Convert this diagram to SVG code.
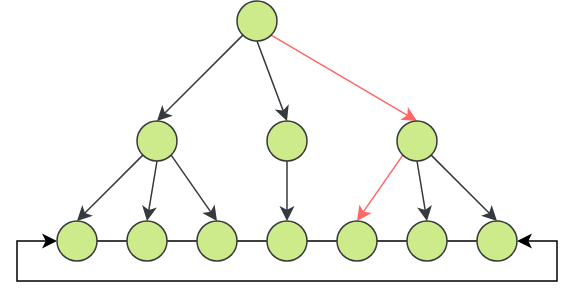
<svg xmlns="http://www.w3.org/2000/svg" width="576" height="300" viewBox="0 0 576 300">
  <style>
    .node { fill: #cdeb8b; stroke: #36393d; stroke-width: 1.5; }
    .edge { fill: none; stroke: #36393d; stroke-width: 1.5; marker-end: url(#arrDark); }
    .red { stroke: #ff6666; marker-end: url(#arrRed); }
    .blk { fill: none; stroke: #000000; stroke-width: 1.5; }
  </style>
  <defs>
    <marker id="arrDark" markerUnits="userSpaceOnUse" orient="auto" refX="0" refY="0" markerWidth="20" markerHeight="20" overflow="visible">
      <path d="M8,0 L-7,-7.5 L-3.25,0 L-7,7.5 Z" fill="#36393d"/>
    </marker>
    <marker id="arrRed" markerUnits="userSpaceOnUse" orient="auto" refX="0" refY="0" markerWidth="20" markerHeight="20" overflow="visible">
      <path d="M8,0 L-7,-7.5 L-3.25,0 L-7,7.5 Z" fill="#ff6666"/>
    </marker>
    <marker id="arrBlk" markerUnits="userSpaceOnUse" orient="auto-start-reverse" refX="0" refY="0" markerWidth="20" markerHeight="20" overflow="visible">
      <path d="M8,0 L-7,-7.5 L-3.25,0 L-7,7.5 Z" fill="#000000"/>
    </marker>
  </defs>
  <g id="connectors">
    <line class="blk" x1="77" y1="241" x2="497" y2="241"/>
    <path class="blk" d="M49,241 H17 V281 H557 V241 H525" marker-start="url(#arrBlk)" marker-end="url(#arrBlk)"/>
    <line class="edge" x1="242.86" y1="35.14" x2="162.66" y2="115.34"/>
    <line class="edge" x1="257" y1="41" x2="284.19" y2="113.51"/>
    <line class="edge red" x1="271.14" y1="35.14" x2="410.11" y2="116.94"/>
    <line class="edge" x1="142.86" y1="155.14" x2="82.66" y2="215.34"/>
    <line class="edge" x1="157" y1="161" x2="148.32" y2="213.11"/>
    <line class="edge" x1="171.14" y1="155.14" x2="212.43" y2="214.43"/>
    <line class="edge" x1="287" y1="161" x2="287" y2="213"/>
    <line class="edge red" x1="402.86" y1="155.14" x2="361.57" y2="214.43"/>
    <line class="edge" x1="417" y1="161" x2="425.68" y2="213.11"/>
    <line class="edge" x1="431.14" y1="155.14" x2="491.34" y2="215.34"/>
  </g>
  <g id="n0"><circle class="node" cx="257" cy="21" r="20"/></g>
  <g id="n1"><circle class="node" cx="157" cy="141" r="20"/></g>
  <g id="n2"><circle class="node" cx="287" cy="141" r="20"/></g>
  <g id="n3"><circle class="node" cx="417" cy="141" r="20"/></g>
  <g id="b1"><circle class="node" cx="77" cy="241" r="20"/></g>
  <g id="b2"><circle class="node" cx="147" cy="241" r="20"/></g>
  <g id="b3"><circle class="node" cx="217" cy="241" r="20"/></g>
  <g id="b4"><circle class="node" cx="287" cy="241" r="20"/></g>
  <g id="b5"><circle class="node" cx="357" cy="241" r="20"/></g>
  <g id="b6"><circle class="node" cx="427" cy="241" r="20"/></g>
  <g id="b7"><circle class="node" cx="497" cy="241" r="20"/></g>
</svg>
